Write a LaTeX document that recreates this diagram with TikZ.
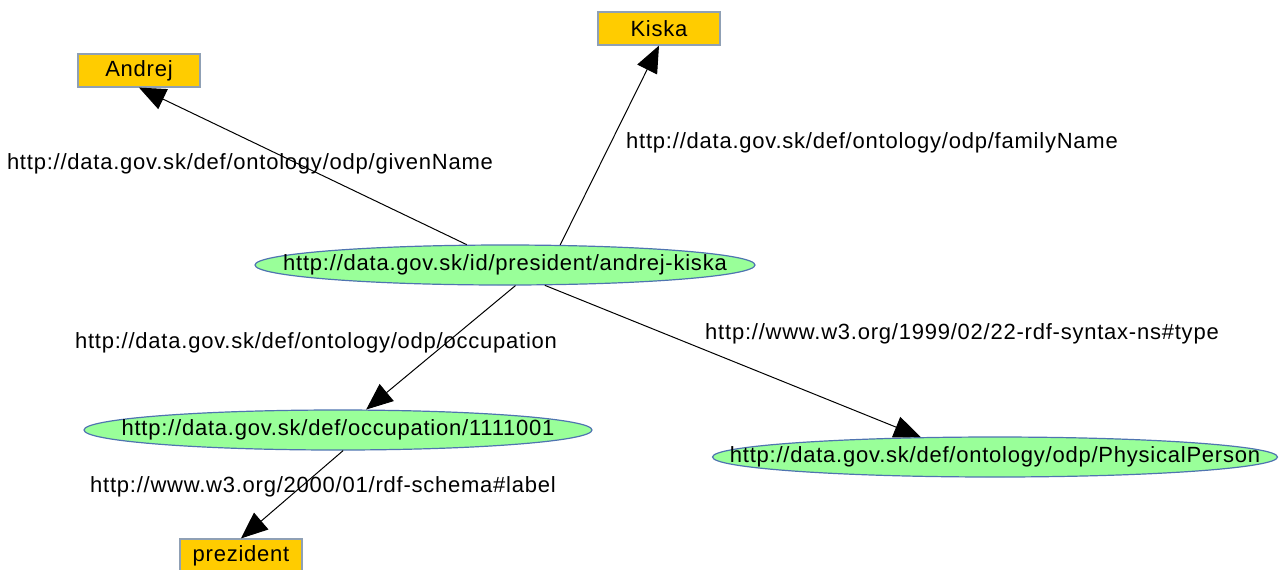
\documentclass[tikz,border=0pt]{standalone}
\usepackage{fontspec}
\setmainfont{Liberation Sans}[LetterSpace=3.5]
\usetikzlibrary{shapes.geometric,arrows.meta}
\definecolor{gold}{HTML}{FFCC00}
\definecolor{lgreen}{HTML}{99FF99}
\definecolor{boxborder}{HTML}{8FA0B5}
\definecolor{ellborder}{HTML}{4F74B0}
\newcommand{\zw}[1]{\makebox[0pt]{#1}}
\begin{document}
\begin{tikzpicture}[x=0.75pt,y=-0.75pt,
  every node/.style={font=\fontsize{16.5}{19}\selectfont, inner sep=0pt},
  lit/.style={rectangle, fill=gold, draw=boxborder, line width=0.9pt, minimum width=91.5pt, minimum height=24.75pt},
  res/.style={ellipse, fill=lgreen, draw=ellborder, line width=0.9pt, minimum height=30pt},
  lbl/.style={text=black},
  rel/.style={draw=black, line width=0.75pt, -{Triangle[length=20pt,width=16.5pt]}}]
\useasboundingbox (0,0) rectangle (1281,569);
\clip (0,0) rectangle (1281,569);
% nodes
\node[res, minimum width=375pt] (c) at (505,265) {\zw{http://data.gov.sk/id/president/andrej-kiska}};
\node[res, minimum width=381pt] (occ) at (338,430) {\zw{http://data.gov.sk/def/occupation/1111001}};
\node[res, minimum width=423.75pt] (pp) at (995,457) {\zw{http://data.gov.sk/def/ontology/odp/PhysicalPerson}};
\node[lit] (andrej) at (139,70.5) {Andrej};
\node[lit] (kiska) at (659,28.5) {Kiska};
\node[lit] (prez) at (241,555.5) {prezident};
% connectors
\draw[rel] (c.152.5) -- (andrej.south);
\draw[rel] (c.20.6) -- (kiska.south);
\draw[rel] (c.-63.4) -- (occ.36.4);
\draw[rel] (c.-27.5) -- (pp.165.5);
\draw[rel] (occ.-76) -- (prez.north);
% labels
\node[lbl] (l1) at (250,164) {http://data.gov.sk/def/ontology/odp/givenName};
\node[lbl] (l2) at (872,143) {http://data.gov.sk/def/ontology/odp/familyName};
\node[lbl] (l3) at (316,343) {http://data.gov.sk/def/ontology/odp/occupation};
\node[lbl] (l4) at (962,334) {http://www.w3.org/1999/02/22-rdf-syntax-ns\#type};
\node[lbl] (l5) at (323,487) {http://www.w3.org/2000/01/rdf-schema\#label};
\end{tikzpicture}
\end{document}
